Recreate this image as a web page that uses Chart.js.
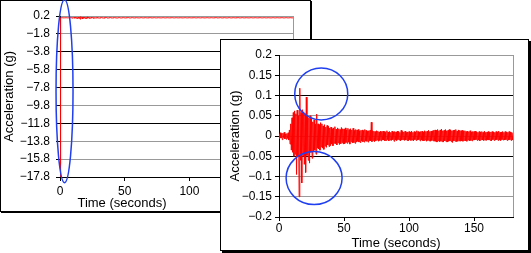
<!DOCTYPE html>
<html>
<head>
<meta charset="utf-8">
<script src="https://cdn.jsdelivr.net/npm/chart.js@4.4.1/dist/chart.umd.min.js"></script>
<style>
  html, body { margin: 0; padding: 0; background: #fff; }
  body { width: 531px; height: 253px; position: relative; overflow: hidden;
         font-family: "Liberation Sans", Arial, sans-serif; }
  .panel { position: absolute; box-sizing: border-box; border: 1px solid #000; background: #fff; }
  #panelLeft { left: 0; top: 0; width: 311px; height: 212px; box-shadow: 1px 1px 0 #000; }
  #panelRight { left: 220px; top: 39px; width: 309px; height: 212px; box-shadow: 2px 2px 0 #000; }
  .panel canvas { position: absolute; left: -1px; top: -1px; }
  #leftTimeTitle { position: absolute; left: 61px; top: 194px; width: 120px; text-align: center;
                   font-size: 13px; line-height: 16px; color: #000; }
</style>
</head>
<body>
<div class="panel" id="panelLeft">
  <canvas id="chartLeft" width="311" height="212"></canvas>
  <div id="leftTimeTitle">Time (seconds)</div>
</div>
<div class="panel" id="panelRight">
  <canvas id="chartRight" width="309" height="212"></canvas>
</div>
<script>
"use strict";

// 1: data (two samples per second, 10 s per row)
const sampleInterval = 0.5; // seconds
const accelG = [
  0.004, -0.006, 0.008, -0.005, 0.006, -0.009, 0.007, -0.004, 0.009, -0.007,
  0.005, -0.008, 0.006, -0.006, 0.008, -0.01, 0.015, -0.02, 0.03, -0.035,
  0.045, -0.04, 0.058, -0.05, 0.062, -0.045, 0.055, -0.095, 0.064, -0.052,
  0.05, -0.15, 0.118, -0.06, 0.058, -0.116, 0.065, -0.05, 0.06, -0.07,
  0.055, -0.09, 0.096, -0.048, 0.05, -0.06, 0.045, -0.067, 0.05, -0.04,
  0.042, -0.055, 0.035, -0.038, 0.04, -0.035, 0.03, -0.045, 0.054, -0.03,
  0.03, -0.032, 0.028, -0.035, 0.033, -0.027, 0.03, -0.03, 0.025, -0.033,
  0.028, -0.025, 0.022, -0.028, 0.026, -0.022, 0.024, -0.026, 0.02, -0.024,
  0.022, -0.02, 0.018, -0.024, 0.02, -0.018, 0.023, -0.019, 0.017, -0.022,
  0.02, -0.017, 0.018, -0.021, 0.016, -0.019, 0.021, -0.016, 0.018, -0.02,
  0.017, -0.019, 0.02, -0.016, 0.015, -0.018, 0.019, -0.015, 0.016, -0.02,
  0.018, -0.014, 0.015, -0.017, 0.019, -0.016, 0.014, -0.018, 0.016, -0.015,
  0.015, -0.013, 0.016, -0.015, 0.012, -0.016, 0.014, -0.012, 0.015, -0.014,
  0.013, -0.015, 0.016, -0.012, 0.014, -0.013, 0.012, -0.015, 0.013, -0.012,
  0.014, -0.012, 0.034, -0.014, 0.013, -0.011, 0.012, -0.014, 0.011, -0.012,
  0.013, -0.01, 0.012, -0.013, 0.01, -0.011, 0.012, -0.012, 0.011, -0.01,
  0.012, -0.01, 0.011, -0.012, 0.009, -0.011, 0.013, -0.009, 0.01, -0.012,
  0.011, -0.01, 0.009, -0.011, 0.012, -0.009, 0.01, -0.013, 0.011, -0.01,
  0.01, -0.011, 0.012, -0.009, 0.011, -0.01, 0.009, -0.012, 0.014, -0.01,
  0.011, -0.009, 0.01, -0.011, 0.012, -0.01, 0.009, -0.011, 0.01, -0.012,
  0.011, -0.009, 0.01, -0.011, 0.012, -0.01, 0.009, -0.012, 0.011, -0.009,
  0.01, -0.011, 0.013, -0.01, 0.011, -0.009, 0.01, -0.012, 0.011, -0.01,
  0.012, -0.011, 0.01, -0.012, 0.013, -0.01, 0.011, -0.013, 0.012, -0.011,
  0.014, -0.012, 0.011, -0.013, 0.012, -0.011, 0.013, -0.012, 0.014, -0.013,
  0.015, -0.013, 0.014, -0.015, 0.016, -0.012, 0.013, -0.014, 0.015, -0.013,
  0.017, -0.014, 0.013, -0.015, 0.014, -0.012, 0.016, -0.014, 0.013, -0.015,
  0.014, -0.013, 0.016, -0.012, 0.015, -0.014, 0.013, -0.016, 0.014, -0.012,
  0.015, -0.013, 0.016, -0.014, 0.012, -0.013, 0.015, -0.012, 0.014, -0.013,
  0.013, -0.012, 0.014, -0.013, 0.012, -0.011, 0.013, -0.012, 0.011, -0.013,
  0.012, -0.01, 0.011, -0.012, 0.013, -0.011, 0.01, -0.012, 0.011, -0.01,
  0.011, -0.01, 0.012, -0.009, 0.01, -0.011, 0.009, -0.01, 0.011, -0.012,
  0.01, -0.009, 0.011, -0.01, 0.009, -0.011, 0.012, -0.01, 0.009, -0.011,
  0.01, -0.009, 0.011, -0.01, 0.009, -0.011, 0.01, -0.012, 0.011, -0.009,
  0.01, -0.011, 0.009, -0.01, 0.011, -0.009, 0.01, -0.011, 0.012, -0.01,
  0.009, -0.011, 0.01, -0.009, 0.011, -0.01, 0.009, -0.01, 0.011, -0.009,
  0.01, -0.011, 0.009, -0.01, 0.011, -0.009, 0.01, -0.011, 0.009, -0.01,
  0.008
];
// the bad sample at the very start of the raw record
const glitchTime = 0.4;
const glitchG = -17.8;

const timeTicks = [0, 50, 100, 150];
const rawTicks = [0.2, -1.8, -3.8, -5.8, -7.8, -9.8, -11.8, -13.8, -15.8, -17.8];
const zoomTicks = [0.2, 0.15, 0.1, 0.05, 0, -0.05, -0.1, -0.15, -0.2];

// 2: prepare points
function toPoints(values) {
  return values.map((g, i) => ({ x: i * sampleInterval, y: g }));
}
const zoomPoints = toPoints(accelG);
const rawPoints = [zoomPoints[0], { x: glitchTime, y: glitchG }].concat(zoomPoints.slice(1));

// 3: plugin for plot frame and blue rings
const markup = {
  id: 'markup',
  beforeDatasetsDraw(chart) {
    const a = chart.chartArea, ctx = chart.ctx;
    ctx.save();
    ctx.strokeStyle = '#999';
    ctx.lineWidth = 1;
    ctx.beginPath();
    ctx.moveTo(Math.round(a.right) + 0.5, a.top);
    ctx.lineTo(Math.round(a.right) + 0.5, a.bottom);
    ctx.stroke();
    ctx.restore();
  },
  afterDraw(chart, args, opts) {
    const ctx = chart.ctx, sx = chart.scales.x, sy = chart.scales.y;
    ctx.save();
    ctx.strokeStyle = '#1f3ff0';
    ctx.lineWidth = 1.5;
    for (const r of opts.rings || []) {
      ctx.beginPath();
      ctx.ellipse(sx.getPixelForValue(r.t), sy.getPixelForValue(r.g), r.rx, r.ry, 0, 0, Math.PI * 2);
      ctx.stroke();
    }
    ctx.restore();
  }
};

function minusLabel(v) {
  return (v < 0 ? '\u2212' : '') + Math.abs(v);
}

function appendChart(id, points, yTicks, darkLines, fit) {
  const font = { family: '"Liberation Sans", Arial, sans-serif', size: 12 };
  return new Chart(document.getElementById(id), {
    type: 'line',
    data: {
      datasets: [{
        data: points,
        borderColor: '#ff0000',
        borderWidth: 1,
        pointRadius: 0,
        tension: 0
      }]
    },
    plugins: [markup],
    options: {
      responsive: false,
      animation: false,
      devicePixelRatio: 1,
      events: [],
      layout: { padding: { left: 0, top: 16, right: fit.right, bottom: 0 } },
      plugins: {
        legend: { display: false },
        tooltip: { enabled: false },
        markup: { rings: fit.rings }
      },
      scales: {
        x: {
          type: 'linear',
          min: 0,
          max: 180,
          afterBuildTicks: s => { s.ticks = timeTicks.map(v => ({ value: v })); },
          afterFit: s => { s.height = fit.xHeight; },
          ticks: { font, color: '#000', padding: fit.xPad, maxRotation: 0, autoSkip: false },
          grid: { drawOnChartArea: false, drawTicks: true, tickLength: 4, tickColor: '#000' },
          border: { color: '#000', width: 1 },
          title: {
            display: fit.xTitle,
            text: 'Time (seconds)',
            font: { family: font.family, size: 13 },
            color: '#000',
            padding: { top: 0, bottom: 0 }
          }
        },
        y: {
          min: yTicks[yTicks.length - 1],
          max: yTicks[0],
          afterBuildTicks: s => { s.ticks = yTicks.map(v => ({ value: v })); },
          afterFit: s => { s.width = fit.yWidth; },
          ticks: { font, color: '#000', padding: fit.yPad, callback: minusLabel, autoSkip: false },
          grid: {
            color: c => (c.tick && darkLines.includes(c.tick.value)) ? '#000' : '#999',
            lineWidth: 1,
            tickLength: 4,
            tickColor: '#000'
          },
          border: { color: '#000', width: 1 },
          title: {
            display: true,
            text: 'Acceleration (g)',
            font: { family: font.family, size: 13 },
            color: '#000',
            padding: { top: fit.yTitlePad, bottom: 0 }
          }
        }
      }
    }
  });
}

appendChart('chartLeft', rawPoints, rawTicks, [-3.8, -5.8, -7.8, -11.8], {
  right: 18, xHeight: 35, yWidth: 60, xPad: 3, yPad: 6, yTitlePad: 2, xTitle: false,
  rings: [{ t: 3.5, g: -8.2, rx: 8.5, ry: 91.5 }]
});
appendChart('chartRight', zoomPoints, zoomTicks, [0.1, -0.05], {
  right: 16, xHeight: 34, yWidth: 59, xPad: 0, yPad: 3, yTitlePad: 8, xTitle: true,
  rings: [
    { t: 32.5, g: 0.104, rx: 26.5, ry: 26 },
    { t: 27, g: -0.104, rx: 28, ry: 26.5 }
  ]
});
</script>
</body>
</html>
